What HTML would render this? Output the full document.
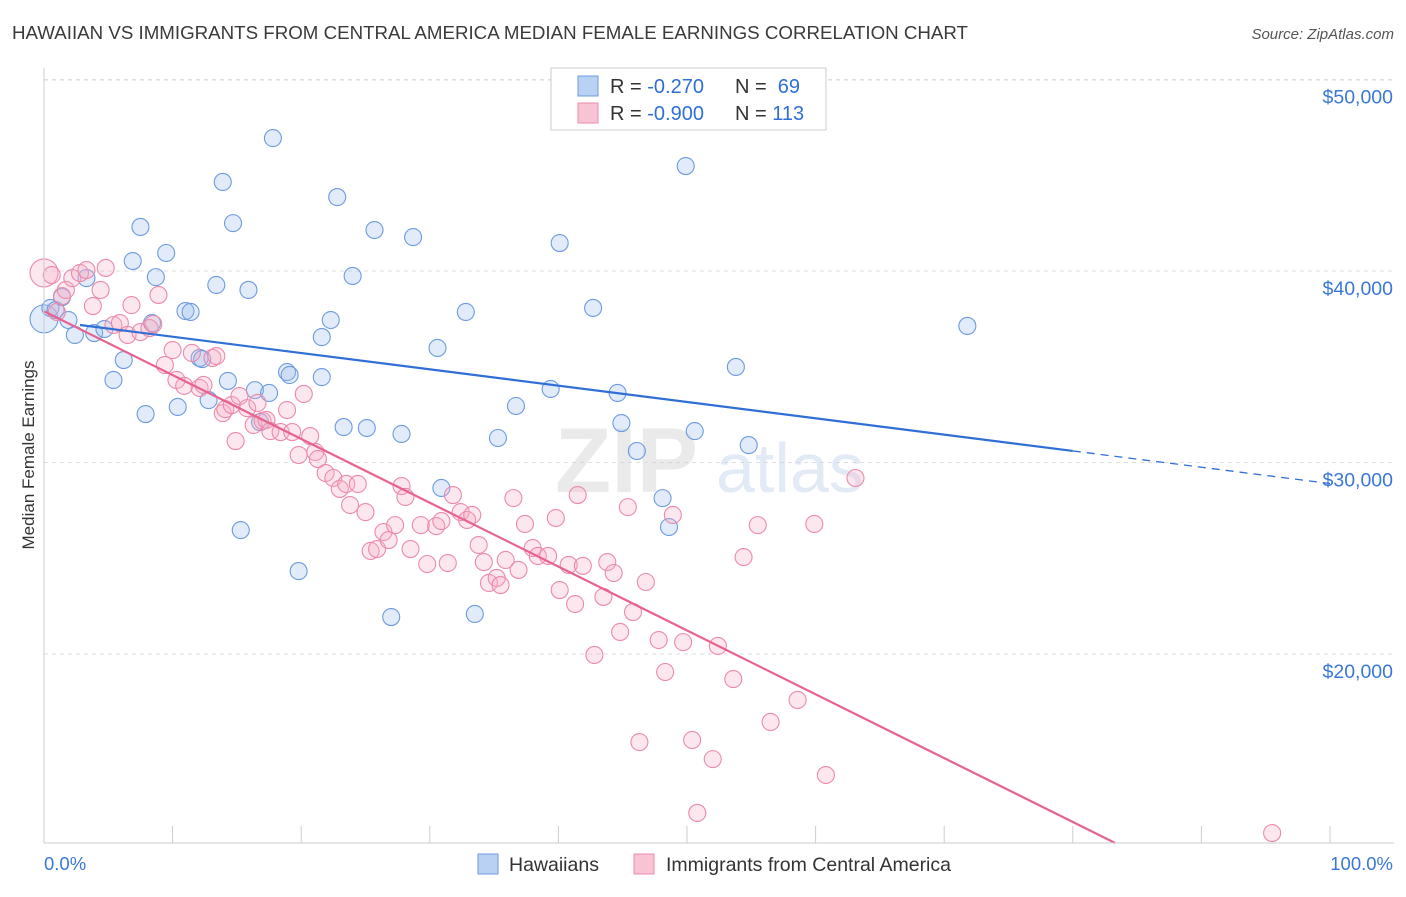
<!DOCTYPE html>
<html><head><meta charset="utf-8">
<style>
body{margin:0;background:#fff;font-family:"Liberation Sans",sans-serif;}
svg text{font-family:"Liberation Sans",sans-serif;}
</style></head>
<body>
<svg id="chart" width="1406" height="892" viewBox="0 0 1406 892" xmlns="http://www.w3.org/2000/svg">
<text x="12" y="39" font-size="18" fill="#3a3a3a" textLength="956" lengthAdjust="spacingAndGlyphs">HAWAIIAN VS IMMIGRANTS FROM CENTRAL AMERICA MEDIAN FEMALE EARNINGS CORRELATION CHART</text>
<text x="1394" y="39" font-size="15" fill="#555" text-anchor="end" font-style="italic">Source: ZipAtlas.com</text>
<g id="grid"></g>
<g opacity="0.5">
<text x="555" y="492" font-size="92" fill="#d6d6d6" font-family="Liberation Serif" font-weight="bold">ZIP</text>
<text x="716" y="492" font-size="70" fill="#c7d6ee">atlas</text>
</g>
<g id="points"></g>
<g id="lines"></g>
<g id="axes"></g>
<text transform="translate(34,455) rotate(-90)" font-size="17" fill="#333" text-anchor="middle">Median Female Earnings</text>
<g>
<rect x="551" y="68" width="275" height="62" fill="#fff" stroke="#ccc"/>
<rect x="578" y="76" width="20" height="20" fill="#b9d1f3" stroke="#6d9be0"/>
<rect x="578" y="103" width="20" height="20" fill="#f8c3d3" stroke="#ec8aab"/>
<text x="610" y="93" font-size="20" fill="#333">R = <tspan fill="#2f6fd6">-0.270</tspan><tspan x="735">N = </tspan><tspan fill="#2f6fd6">&#160;69</tspan></text>
<text x="610" y="120" font-size="20" fill="#333">R = <tspan fill="#2f6fd6">-0.900</tspan><tspan x="735">N = </tspan><tspan fill="#2f6fd6">113</tspan></text>
</g>
<g>
<rect x="478" y="854" width="20" height="20" fill="#b9d1f3" stroke="#6d9be0"/>
<text x="509" y="871" font-size="19.5" fill="#333">Hawaiians</text>
<rect x="634" y="854" width="20" height="20" fill="#f8c3d3" stroke="#ec8aab"/>
<text x="666" y="871" font-size="19.5" fill="#333">Immigrants from Central America</text>
</g>
</svg>
<script>
const yTicks=[20000,30000,40000,50000];
const yTickLabels=["$20,000","$30,000","$40,000","$50,000"];
const xTickLabels=["0.0%","100.0%"];
const blueX=[0.5,0.9,1.4,1.9,2.4,3.3,3.9,4.7,5.4,6.2,6.9,7.5,7.9,8.4,8.7,9.5,10.4,11.0,11.4,12.1,12.3,12.8,13.4,13.9,14.3,14.7,15.3,15.9,16.4,16.8,17.5,17.8,18.9,19.1,19.8,21.6,21.6,22.3,22.8,23.3,24.0,25.1,25.7,27.0,27.8,28.7,30.6,30.9,32.8,33.5,35.3,36.7,39.4,40.1,42.7,44.6,44.9,46.1,48.1,48.6,49.9,50.6,53.8,54.8,71.8];
const blueY=[38.07,37.96,38.64,37.44,36.66,39.63,36.76,36.97,34.31,35.35,40.52,42.30,32.53,37.28,39.68,40.94,32.90,37.91,37.86,35.46,35.40,33.26,39.27,44.65,34.26,42.50,26.47,39.01,33.78,32.11,33.63,46.94,34.72,34.57,24.33,34.46,36.55,37.44,43.86,31.85,39.74,31.80,42.14,21.93,31.49,41.77,35.98,28.67,37.86,22.09,31.28,32.95,33.84,41.46,38.07,33.63,32.06,30.60,28.14,26.63,45.48,31.64,34.99,30.91,37.13];
const pinkX=[0.6,1.0,1.4,1.7,2.2,2.8,3.3,3.8,4.4,4.8,5.4,5.9,6.5,6.8,7.5,8.2,8.5,8.9,9.4,10.0,10.3,10.9,11.5,12.1,12.4,13.1,13.4,13.9,14.1,14.6,14.9,15.2,15.8,16.3,16.6,17.0,17.3,17.6,18.4,18.9,19.3,19.8,20.2,20.7,21.1,21.3,21.9,22.5,23.0,23.5,23.8,24.4,25.0,25.4,25.9,26.4,26.8,27.3,27.8,28.1,28.5,29.3,29.8,30.5,30.9,31.4,31.8,32.4,32.9,33.3,33.8,34.2,34.6,35.2,35.5,35.9,36.5,36.9,37.4,38.0,38.4,39.2,39.8,40.1,40.8,41.3,41.5,41.9,42.8,43.5,43.8,44.3,44.8,45.4,45.8,46.3,46.8,47.8,48.3,48.9,49.7,50.4,50.8,52.0,52.4,53.6,54.4,55.5,56.5,58.6,59.9,60.8,63.1,95.5];
const pinkY=[39.79,37.86,38.69,39.01,39.63,39.89,40.05,38.17,39.01,40.16,37.18,37.28,36.66,38.22,36.81,37.02,37.23,38.75,35.09,35.87,34.31,34.00,35.72,33.89,34.05,35.46,35.56,32.58,32.79,33.00,31.12,33.47,32.84,31.96,33.11,32.17,32.22,31.64,31.59,32.74,31.59,30.39,33.58,31.38,30.55,30.18,29.45,29.19,28.62,28.88,27.78,28.88,27.41,25.38,25.48,26.37,25.95,26.73,28.77,28.20,25.48,26.73,24.70,26.68,26.94,24.75,28.30,27.41,27.00,27.26,25.69,24.80,23.71,23.97,23.60,24.91,28.14,24.39,26.79,25.53,25.12,25.12,27.10,23.34,24.65,22.61,28.30,24.60,19.95,22.98,24.80,24.23,21.15,27.67,22.19,15.40,23.76,20.73,19.06,27.26,20.62,15.51,11.70,14.51,20.42,18.69,25.06,26.73,16.45,17.60,26.79,13.68,29.19,10.65];
const blueTrend=[37.42,-0.0852];
const pinkTrend=[37.9,-0.3334];
const NS="http://www.w3.org/2000/svg";
const X0=44,X1=1330,YB=843;
const sx=p=>X0+p*(X1-X0)/100;
const sy=v=>1037-v*19.15;
function mk(tag,attrs,parent){const e=document.createElementNS(NS,tag);for(const k in attrs)e.setAttribute(k,attrs[k]);parent.appendChild(e);return e;}
const grid=document.getElementById('grid'),axes=document.getElementById('axes'),pts=document.getElementById('points'),lines=document.getElementById('lines');
yTicks.forEach((t,i)=>{const y=sy(t/1000);
 const l=mk('line',{x1:X0,x2:1394,y1:y,y2:y,stroke:'#ddd','stroke-dasharray':'4,4'},grid);
 
 
 const tx=mk('text',{x:1393,y:y+24,'font-size':19.5,fill:'#3a78d8','text-anchor':'end'},axes);
 
 
 tx.textContent=yTickLabels[i];});
{const l=mk('line',{x1:X0,x2:1394,y1:80,y2:80,stroke:'#ddd','stroke-dasharray':'4,4'},grid);
 
 }
mk('line',{x1:X0,x2:X0,y1:68,y2:YB,stroke:'#ccc'},axes);
mk('line',{x1:X0,x2:1394,y1:YB,y2:YB,stroke:'#ccc'},axes);
for(let i=0;i<=10;i++){const x=sx(i*10);const t=mk('line',{x1:x,x2:x,y1:YB,y2:YB-17,stroke:'#ccc'},axes);
 
 }
[[0,'start',44],[1,'end',1393]].forEach(([i,a,x])=>{const t=mk('text',{x:x,y:870,'font-size':18.5,fill:'#3a78d8','text-anchor':a},axes);
 
 
 t.textContent=xTickLabels[i];});
function dot(x,v,fill,stroke,r,name){const c=mk('circle',{cx:sx(x),cy:sy(v),r:r,fill:fill,'fill-opacity':0.3,stroke:stroke,'stroke-width':1.1},pts);
 
 }
dot(0,37.5,'#9bbdeb','#6d9be0',14,'hawaiian-point');
dot(0,39.9,'#f5b0c6','#ec8aab',14,'immigrant-point');
blueX.forEach((x,i)=>dot(x,blueY[i],'#9bbdeb','#6d9be0',8.5,'hawaiian-point'));
pinkX.forEach((x,i)=>dot(x,pinkY[i],'#f5b0c6','#ec8aab',8.5,'immigrant-point'));
const bv=p=>blueTrend[0]+blueTrend[1]*p;
let l1=mk('line',{x1:sx(2.8),y1:sy(bv(2.8)),x2:sx(80),y2:sy(bv(80)),stroke:'#2f6fd6','stroke-width':2.2},lines);


let l2=mk('line',{x1:sx(80),y1:sy(bv(80)),x2:sx(100),y2:sy(bv(100)),stroke:'#2f6fd6','stroke-width':1.3,'stroke-dasharray':'8,6'},lines);


const pv=p=>pinkTrend[0]+pinkTrend[1]*p;
const vb=(1037-YB)/19.15;
const pEnd=Math.min(100,(vb-pinkTrend[0])/pinkTrend[1]);
let l3=mk('line',{x1:sx(0),y1:sy(pv(0)),x2:sx(pEnd),y2:sy(pv(pEnd)),stroke:'#e8628f','stroke-width':2.2},lines);


</script>
</body></html>
